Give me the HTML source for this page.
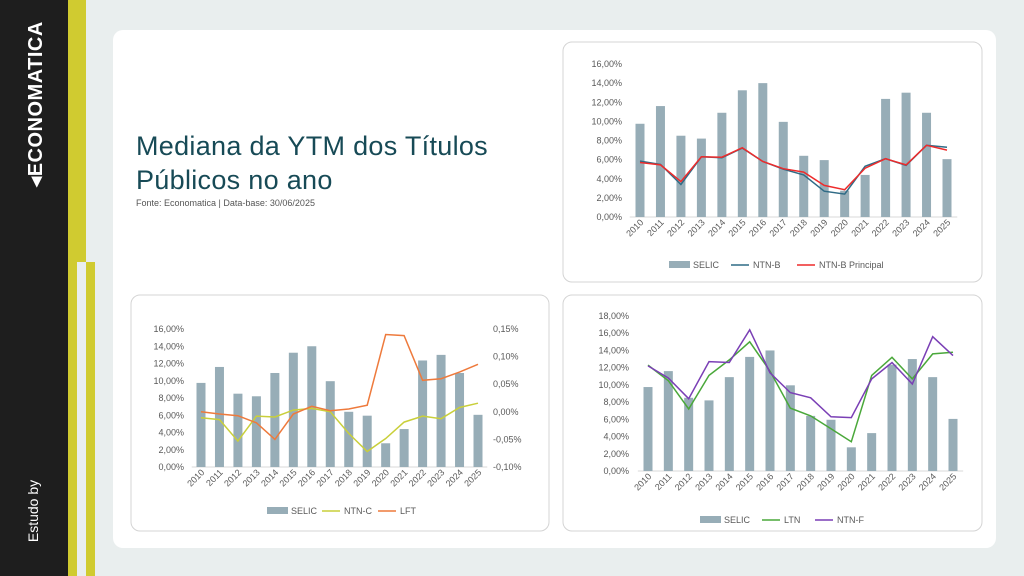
<!DOCTYPE html>
<html><head><meta charset="utf-8"><style>
body{margin:0;width:1024px;height:576px;overflow:hidden;background:#e9eeee;font-family:"Liberation Sans",sans-serif;position:relative}
.abs{position:absolute}
</style></head><body>
<div class="abs" style="left:0;top:0;width:68px;height:576px;background:#1e1e1e"></div>
<div class="abs" style="left:68px;top:0;width:18px;height:262px;background:#d0cb30"></div>
<div class="abs" style="left:68px;top:262px;width:9px;height:314px;background:#d0cb30"></div>
<div class="abs" style="left:86px;top:262px;width:9px;height:314px;background:#d0cb30"></div>
<div class="abs" style="left:113px;top:30px;width:883px;height:518px;background:#fff;border-radius:10px"></div>
<div class="abs" style="left:-48px;top:92px;width:166px;height:24px;transform:rotate(-90deg);color:#fff;font-weight:bold;font-size:20px;text-align:center;letter-spacing:0.5px">◂ECONOMATICA</div>
<div class="abs" style="left:-6px;top:502px;width:80px;height:18px;transform:rotate(-90deg);color:#fff;font-size:14px;text-align:center">Estudo by</div>
<div class="abs" style="left:136px;top:129px;color:#174a56;font-size:27px;line-height:34px;letter-spacing:0.3px">Mediana da YTM dos Títulos<br>Públicos no ano</div>
<div class="abs" style="left:136px;top:198px;color:#555;font-size:9px">Fonte: Economatica | Data-base: 30/06/2025</div>
<svg class="abs" style="left:0;top:0" width="1024" height="576" id="s"></svg>
<script>
var s=document.getElementById('s'),h='';
var selic=[9.75,11.6,8.5,8.2,10.9,13.25,14.0,9.95,6.4,5.95,2.75,4.4,12.35,13.0,10.9,6.05];
function chart(o){
 h+='<rect x="'+o.bx+'" y="'+o.by+'" width="'+o.bw+'" height="'+o.bh+'" rx="9" fill="#fff" stroke="#d4d4d4" stroke-width="1"/>';
 var sp=(o.x1-o.x0)/15;
 var Y=function(v){return o.y0-(v/o.max)*(o.y0-o.ytop)};
 for(var t=0;t<=o.max;t+=2){h+='<text x="'+(o.lx)+'" y="'+(Y(t)+3)+'" font-size="9" fill="#595959" text-anchor="end">'+t.toFixed(2).replace('.',',')+'%</text>';}
 h+='<line x1="'+(o.x0-sp/2)+'" x2="'+(o.x1+sp/2)+'" y1="'+o.y0+'" y2="'+o.y0+'" stroke="#d9d9d9"/>';
 for(var i=0;i<16;i++){var x=o.x0+i*sp;
  h+='<rect x="'+(x-4.5)+'" y="'+Y(selic[i])+'" width="9" height="'+(o.y0-Y(selic[i]))+'" fill="#97adb7"/>';
  h+='<text transform="translate('+(x+4)+','+(o.y0+6)+') rotate(-45)" font-size="9" fill="#595959" text-anchor="end">'+(2010+i)+'</text>';}
 o.lines.forEach(function(l){var Yf=l.Y||Y;var p=l.d.map(function(v,i){return (o.x0+i*sp).toFixed(1)+','+Yf(v).toFixed(1)}).join(' ');
  h+='<polyline points="'+p+'" fill="none" stroke="'+l.c+'" stroke-width="1.5"/>';});
 var lx=o.legx,ly=o.legy;
 h+='<rect x="'+lx+'" y="'+(ly-4)+'" width="21" height="7" fill="#97adb7"/><text x="'+(lx+24)+'" y="'+(ly+3)+'" font-size="9" fill="#595959">SELIC</text>';
 lx+=o.legsp[0];
 o.lines.forEach(function(l,k){h+='<line x1="'+lx+'" x2="'+(lx+18)+'" y1="'+ly+'" y2="'+ly+'" stroke="'+l.c+'" stroke-width="1.5"/><text x="'+(lx+22)+'" y="'+(ly+3)+'" font-size="9" fill="#595959">'+l.n+'</text>';lx+=o.legsp[k+1]||0;});
 return Y;
}
chart({bx:563,by:42,bw:419,bh:240,x0:640,x1:947,y0:217,ytop:64,max:16,lx:622,legx:669,legy:265,legsp:[62,66],lines:[
 {n:'NTN-B',c:'#2f6b86',d:[5.85,5.5,3.4,6.3,6.2,7.2,5.8,5.0,4.4,2.7,2.4,5.3,6.1,5.4,7.5,7.3]},
 {n:'NTN-B Principal',c:'#ee2b2b',d:[5.7,5.45,3.7,6.3,6.25,7.25,5.8,5.05,4.7,3.3,2.85,5.1,6.1,5.45,7.5,7.0]}]});
var Yr=function(v){return 467-(v+0.10)/0.25*138};
chart({bx:131,by:295,bw:418,bh:236,x0:201,x1:478,y0:467,ytop:329,max:16,lx:184,legx:267,legy:511,legsp:[55,56],lines:[
 {n:'NTN-C',c:'#c9cf3a',d:[5.7,5.5,3.0,5.9,5.8,6.6,6.8,6.4,3.9,1.8,3.3,5.2,5.9,5.6,6.9,7.4]},
 {n:'LFT',c:'#ee7a3c',Y:Yr,d:[0.0,-0.004,-0.007,-0.02,-0.05,-0.004,0.01,0.002,0.005,0.012,0.14,0.138,0.057,0.06,0.072,0.086]}]});
for(var i=0;i<6;i++){var v=0.15-i*0.05;h+='<text x="493" y="'+(Yr(v)+3)+'" font-size="9" fill="#595959">'+(v<-0.001?'-':'')+Math.abs(v).toFixed(2).replace('.',',')+'%</text>';}
chart({bx:563,by:295,bw:419,bh:236,x0:648,x1:953,y0:471,ytop:316,max:18,lx:629,legx:700,legy:520,legsp:[62,53],lines:[
 {n:'LTN',c:'#4aa83a',d:[12.3,10.5,7.2,11.1,12.9,15.0,11.6,7.3,6.4,4.9,3.4,11.1,13.2,10.7,13.6,13.8]},
 {n:'NTN-F',c:'#7a3fb5',d:[12.2,10.8,8.4,12.7,12.6,16.4,11.4,9.1,8.5,6.3,6.2,10.7,12.6,10.1,15.6,13.4]}]});
s.innerHTML=h;
</script>
</body></html>
